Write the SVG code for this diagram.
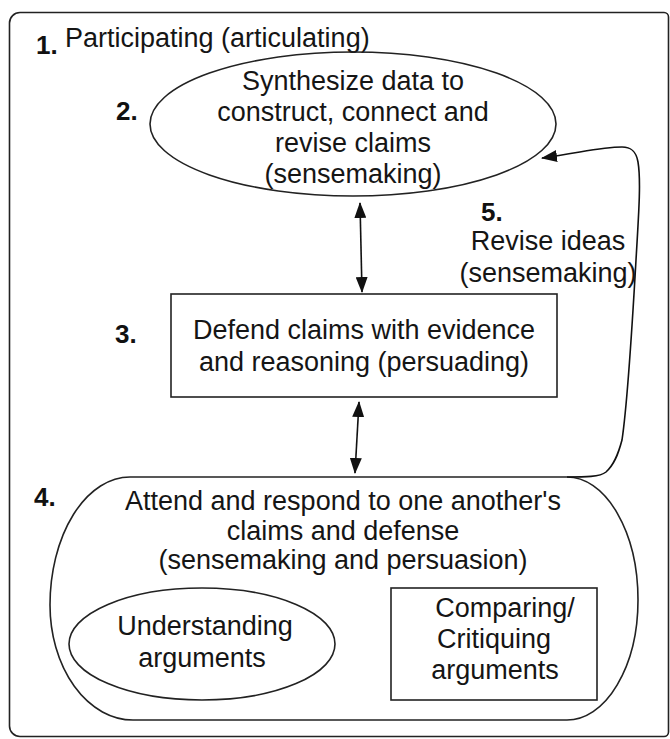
<svg xmlns="http://www.w3.org/2000/svg" width="670" height="739" viewBox="0 0 670 739">
<defs>
<style>
.t{font-family:"Liberation Sans",Arial,sans-serif;font-size:27px;fill:#151515;text-anchor:middle}
.n{font-family:"Liberation Sans",Arial,sans-serif;font-size:26px;font-weight:bold;fill:#111}
.s{fill:none;stroke:#222;stroke-width:1.6}
.c{fill:none;stroke:#111;stroke-width:1.6}
</style>
<marker id="ah" markerUnits="userSpaceOnUse" markerWidth="16" markerHeight="12" refX="15" refY="6" orient="auto-start-reverse" viewBox="0 0 16 12">
<path d="M0,0 L16,6 L0,12 Z" fill="#111"/>
</marker>
</defs>
<rect width="670" height="739" fill="#fff"/>
<g id="frame">
<path class="s" d="M664,12.5 H20 A10.5,10.5 0 0 0 9.5,23 V726 A10.5,10.5 0 0 0 20,736.5 H664 A4.5,4.5 0 0 0 668.5,732 V17 A4.5,4.5 0 0 0 664,12.5 Z"/>
<text class="n" x="36" y="54">1.</text>
<text class="t" x="65" y="47" style="text-anchor:start">Participating (articulating)</text>
</g>
<g id="node2">
<ellipse class="s" cx="353" cy="124" rx="203" ry="72"/>
<text class="n" x="116" y="120">2.</text>
<text class="t" x="353" y="90">Synthesize data to</text>
<text class="t" x="353" y="121">construct, connect and</text>
<text class="t" x="353" y="152">revise claims</text>
<text class="t" x="353" y="183">(sensemaking)</text>
</g>
<g id="node3">
<rect class="s" x="171" y="294" width="386" height="103"/>
<text class="n" x="115" y="343">3.</text>
<text class="t" x="364" y="339">Defend claims with evidence</text>
<text class="t" x="364" y="371">and reasoning (persuading)</text>
</g>
<g id="node4">
<path class="s" d="M130,477 H567 A71,123 0 0 1 638,600 A71,120 0 0 1 567,720 H133 A83,115 0 0 1 50,605 A80,128 0 0 1 130,477 Z"/>
<text class="n" x="34" y="506">4.</text>
<text class="t" x="343" y="510">Attend and respond to one another's</text>
<text class="t" x="343" y="540">claims and defense</text>
<text class="t" x="343" y="569">(sensemaking and persuasion)</text>
</g>
<g id="node4a">
<ellipse class="s" cx="202" cy="644" rx="133" ry="56"/>
<text class="t" x="205" y="635">Understanding</text>
<text class="t" x="202" y="667">arguments</text>
</g>
<g id="node4b">
<rect class="s" x="391" y="588" width="206" height="112"/>
<text class="t" x="505" y="617">Comparing/</text>
<text class="t" x="494" y="648">Critiquing</text>
<text class="t" x="495" y="679">arguments</text>
</g>
<g id="label5">
<text class="n" x="481" y="221">5.</text>
<text class="t" x="548" y="250">Revise ideas</text>
<text class="t" x="548" y="282">(sensemaking)</text>
</g>
<g id="connectors">
<line class="c" x1="360" y1="203" x2="362" y2="292" marker-start="url(#ah)" marker-end="url(#ah)"/>
<line class="c" x1="359" y1="402" x2="355" y2="473" marker-start="url(#ah)" marker-end="url(#ah)"/>
<path class="c" d="M567,477 C585,477 600,477 606,472 C614,465 618,455 622,440 C628,400 632,330 636,260 C639,210 641,180 638,162 C636,150 630,147 622,147 C600,147 580,153 542,158" marker-end="url(#ah)"/>
</g>
</svg>
